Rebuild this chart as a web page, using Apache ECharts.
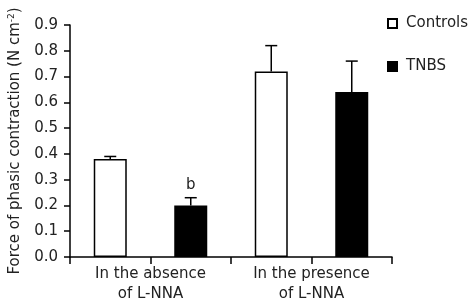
<!DOCTYPE html>
<html>
<head>
<meta charset="utf-8">
<script src="https://cdn.jsdelivr.net/npm/echarts@6/dist/echarts.min.js"></script>
<style>
html, body { margin: 0; padding: 0; background: #fff; }
#main { width: 476px; height: 308px; }
</style>
</head>
<body>
<div id="main"></div>
<script>
// bar slots, left to right: controls / TNBS without L-NNA, controls / TNBS with L-NNA
var slots = ['c1', 't1', 'c2', 't2'];
var groupLabels = ['In the absence\nof L-NNA', 'In the presence\nof L-NNA'];
var controls = [0.38, '-', 0.72, '-'];
var tnbs = ['-', 0.20, '-', 0.64];
var controlsErr = [0.01, '-', 0.10, '-'];
var tnbsErr = ['-', 0.03, '-', 0.12];
var yTicks = [0, 0.9, 0.1];

var font = 'DejaVu Sans';
var chart = echarts.init(document.getElementById('main'));

function errData(vals, errs) {
    var out = [];
    for (var i = 0; i < vals.length; i++) {
        if (vals[i] !== '-') out.push([i, vals[i], vals[i] + errs[i]]);
    }
    return out;
}

function renderErr(params, api) {
    var p0 = api.coord([api.value(0), api.value(1)]);
    var p1 = api.coord([api.value(0), api.value(2)]);
    var half = 6;
    var st = { stroke: '#000', lineWidth: 1.5 };
    return {
        type: 'group',
        children: [
            { type: 'line', shape: { x1: p0[0], y1: p0[1], x2: p1[0], y2: p1[1] }, style: st },
            { type: 'line', shape: { x1: p1[0] - half, y1: p1[1], x2: p1[0] + half, y2: p1[1] }, style: st }
        ]
    };
}

var tnbsData = tnbs.map(function (v, i) {
    if (i === 1) {
        return {
            value: v,
            label: { show: true, position: 'top', distance: 13, formatter: 'b',
                fontFamily: font, fontSize: 15, color: '#222' }
        };
    }
    return v;
});

chart.setOption({
    animation: false,
    textStyle: { fontFamily: font },
    grid: { left: 70, right: 84, top: 25, bottom: 51, outerBoundsMode: 'none' },
    legend: {
        orient: 'vertical',
        left: 382,
        top: 11,
        itemGap: 28,
        itemWidth: 9,
        itemHeight: 9,
        icon: 'rect',
        textStyle: { fontFamily: font, fontSize: 15, color: '#222', padding: [0, 0, 0, 4] },
        data: ['Controls', 'TNBS']
    },
    xAxis: [
        {
            type: 'category',
            data: slots,
            axisLine: { lineStyle: { color: '#000', width: 1.5 } },
            axisTick: { show: true, length: 7, lineStyle: { color: '#000', width: 1.5 } },
            axisLabel: { show: false }
        },
        {
            type: 'category',
            data: groupLabels,
            position: 'bottom',
            axisLine: { show: false },
            axisTick: { show: false },
            axisLabel: { fontFamily: font, fontSize: 15, color: '#222', lineHeight: 20, margin: 7 }
        }
    ],
    yAxis: {
        type: 'value',
        min: yTicks[0],
        max: yTicks[1],
        interval: yTicks[2],
        name: '{n|Force of phasic contraction (N cm}{s|-2}{n|)}',
        nameLocation: 'middle',
        nameGap: 46,
        nameTextStyle: {
            rich: {
                n: { fontFamily: font, fontSize: 15, color: '#222' },
                s: { fontFamily: font, fontSize: 9, color: '#222', padding: [0, 0, 8, 0] }
            }
        },
        splitLine: { show: false },
        axisLine: { show: true, lineStyle: { color: '#000', width: 1.5 } },
        axisTick: { show: true, length: 6, lineStyle: { color: '#000', width: 1.5 } },
        axisLabel: {
            fontFamily: font, fontSize: 15, color: '#222', margin: 12,
            formatter: function (v) { return v.toFixed(1); }
        }
    },
    series: [
        {
            name: 'Controls',
            type: 'bar',
            data: controls,
            barWidth: 33,
            barGap: '-100%',
            itemStyle: { color: '#fff', borderColor: '#000', borderWidth: 1.5 }
        },
        {
            name: 'TNBS',
            type: 'bar',
            data: tnbsData,
            barWidth: 33,
            barGap: '-100%',
            itemStyle: { color: '#000', borderColor: '#000', borderWidth: 1.5 }
        },
        {
            type: 'custom',
            renderItem: renderErr,
            data: errData(controls, controlsErr),
            z: 3
        },
        {
            type: 'custom',
            renderItem: renderErr,
            data: errData(tnbs, tnbsErr),
            z: 3
        }
    ]
});
</script>
</body>
</html>
